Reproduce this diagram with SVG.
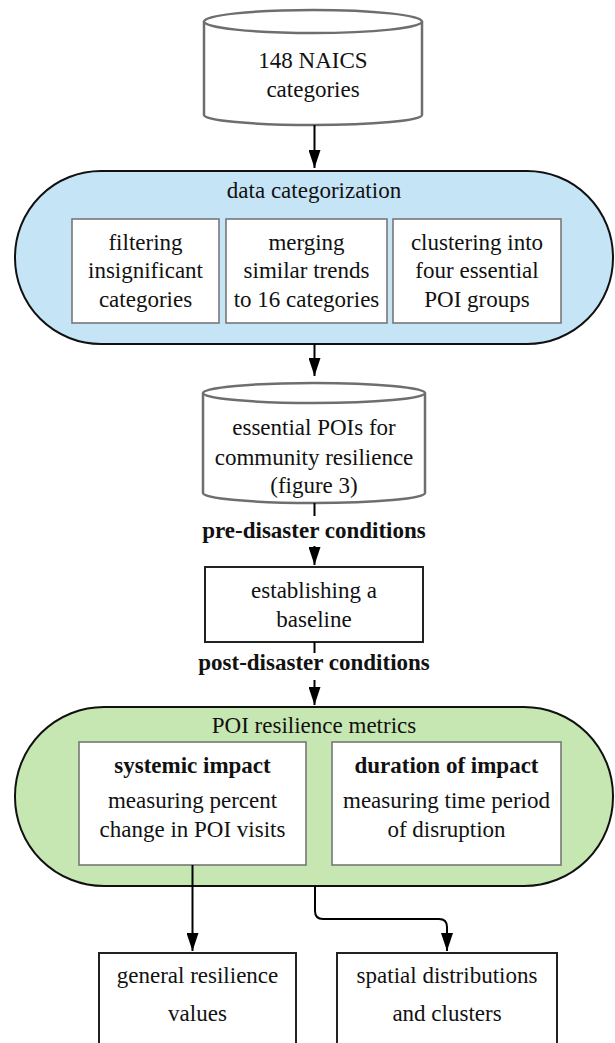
<svg xmlns="http://www.w3.org/2000/svg" width="615" height="1043" viewBox="0 0 615 1043">
  <style>
    text { font-family: "Liberation Serif", serif; font-size: 23px; fill: #111; text-anchor: middle; }
    .b { font-weight: bold; }
    .cyl { fill: #fff; stroke: #6e6e6e; stroke-width: 2.5; }
    .pill { stroke: #111; stroke-width: 2; }
    .inner { fill: #fff; stroke: #777; stroke-width: 1.6; }
    .box { fill: #fff; stroke: #222; stroke-width: 2; }
    .edge { fill: none; stroke: #000; stroke-width: 2; }
  </style>
  <defs>
    <marker id="arrow" viewBox="0 0 18 12" refX="18" refY="6" markerWidth="18" markerHeight="12" markerUnits="userSpaceOnUse" orient="auto">
      <path d="M0,0 L18,6 L0,12 Z" fill="#000"/>
    </marker>
  </defs>

  <!-- source data store -->
  <g id="naics">
    <path class="cyl" d="M204,21 L204,115 A109,10 0 0 0 422,115 L422,21"/>
    <ellipse class="cyl" cx="313" cy="21.5" rx="109" ry="11.5"/>
    <text x="313" y="68">148 NAICS</text>
    <text x="313" y="97">categories</text>
  </g>

  <!-- data categorization stage -->
  <g id="categorization">
    <rect class="pill" x="15" y="171" width="598" height="173" rx="86" ry="86" fill="#c5e4f6"/>
    <text x="314" y="198">data categorization</text>
    <g id="filtering">
      <rect class="inner" x="72" y="219" width="147" height="104"/>
      <text x="145.5" y="250">filtering</text>
      <text x="145.5" y="278">insignificant</text>
      <text x="145.5" y="307">categories</text>
    </g>
    <g id="merging">
      <rect class="inner" x="226" y="219" width="161" height="104"/>
      <text x="306.5" y="250">merging</text>
      <text x="306.5" y="278">similar trends</text>
      <text x="306.5" y="307">to 16 categories</text>
    </g>
    <g id="clustering">
      <rect class="inner" x="393" y="219" width="168" height="104"/>
      <text x="477" y="250">clustering into</text>
      <text x="477" y="278">four essential</text>
      <text x="477" y="307">POI groups</text>
    </g>
  </g>

  <!-- essential POI data store -->
  <g id="essential-pois">
    <path class="cyl" d="M203,393 L203,493 A111,10 0 0 0 425,493 L425,393"/>
    <ellipse class="cyl" cx="314" cy="393" rx="111" ry="10"/>
    <text x="314" y="435">essential POIs for</text>
    <text x="314" y="465">community resilience</text>
    <text x="314" y="493">(figure 3)</text>
  </g>

  <g id="pre-label">
    <text class="b" x="314" y="538">pre-disaster conditions</text>
  </g>

  <g id="baseline">
    <rect class="box" x="205" y="567" width="218" height="75"/>
    <text x="314" y="598">establishing a</text>
    <text x="314" y="627">baseline</text>
  </g>

  <g id="post-label">
    <text class="b" x="314" y="670">post-disaster conditions</text>
  </g>

  <!-- resilience metrics stage -->
  <g id="metrics">
    <rect class="pill" x="15" y="707" width="598" height="179" rx="89" ry="89" fill="#c6e7b2"/>
    <text x="314" y="733">POI resilience metrics</text>
    <g id="systemic">
      <rect class="inner" x="79" y="742" width="227" height="123"/>
      <text class="b" x="192.5" y="773">systemic impact</text>
      <text x="192.5" y="808">measuring percent</text>
      <text x="192.5" y="837">change in POI visits</text>
    </g>
    <g id="duration">
      <rect class="inner" x="332" y="742" width="229" height="123"/>
      <text class="b" x="446.5" y="773">duration of impact</text>
      <text x="446.5" y="808">measuring time period</text>
      <text x="446.5" y="837">of disruption</text>
    </g>
  </g>

  <!-- outputs -->
  <g id="general">
    <rect class="box" x="99" y="953" width="197" height="100"/>
    <text x="197.5" y="983">general resilience</text>
    <text x="197.5" y="1021">values</text>
  </g>
  <g id="spatial">
    <rect class="box" x="337" y="953" width="220" height="100"/>
    <text x="447" y="983">spatial distributions</text>
    <text x="447" y="1021">and clusters</text>
  </g>

  <!-- connectors -->
  <g id="connectors">
    <path class="edge" d="M314.5,125 L314.5,168" marker-end="url(#arrow)"/>
    <path class="edge" d="M314.5,344 L314.5,376" marker-end="url(#arrow)"/>
    <path class="edge" d="M314.5,503 L314.5,516"/>
    <path class="edge" d="M314.5,546 L314.5,565" marker-end="url(#arrow)"/>
    <path class="edge" d="M314.5,642 L314.5,653"/>
    <path class="edge" d="M314.5,680 L314.5,705" marker-end="url(#arrow)"/>
    <path class="edge" d="M192.5,865 L192.5,951" marker-end="url(#arrow)"/>
    <path class="edge" d="M315,886 L315,911 Q315,919 323,919 L439,919 Q447,919 447,927 L447,951" marker-end="url(#arrow)"/>
  </g>
</svg>
